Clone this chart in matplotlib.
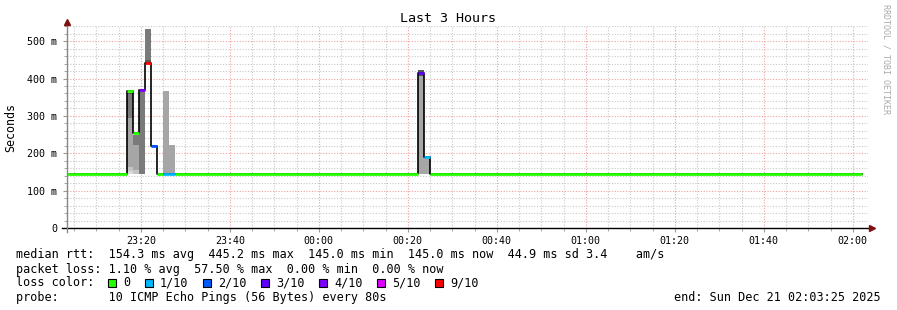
import numpy as np
import pandas as pd
import matplotlib
matplotlib.use("Agg")
import matplotlib.pyplot as plt
import matplotlib.dates as mdates
from matplotlib.patches import Rectangle
from matplotlib.ticker import FixedLocator, FuncFormatter

plt.rcParams['font.family'] = ['DejaVu Sans Mono', 'DejaVu Sans']

view_start = pd.Timestamp("2025-12-20 23:03:25")
view_end = pd.Timestamp("2025-12-21 02:03:25")
data_end = pd.Timestamp("2025-12-21 02:02:05")

# median rtt (ms), each value held until the next start
seg_start = ["2025-12-20 23:03:25", "2025-12-20 23:17:00", "2025-12-20 23:18:20",
             "2025-12-20 23:19:40", "2025-12-20 23:21:00", "2025-12-20 23:22:20",
             "2025-12-20 23:23:40", "2025-12-20 23:25:00", "2025-12-20 23:26:20",
             "2025-12-20 23:27:40", "2025-12-21 00:22:20", "2025-12-21 00:23:40",
             "2025-12-21 00:25:00"]
seg_median = [145, 366, 255, 369, 442, 219, 145, 145, 145, 145, 414, 190, 145]
seg_loss = [0, 0, 0, 4, 9, 2, 0, 1, 1, 0, 3, 1, 0]   # lost pings out of 10

# smoke (ping spread) bands in 80 s bins, level 1 = light .. 5 = dark
smoke_start = ["2025-12-20 23:17:00"] * 5 + ["2025-12-20 23:18:20"] * 3 + \
              ["2025-12-20 23:19:40"] + ["2025-12-20 23:21:00"] * 2 + \
              ["2025-12-20 23:25:00", "2025-12-20 23:26:20"] + \
              ["2025-12-21 00:22:20"] * 2 + ["2025-12-21 00:23:40"]
smoke_lo = [145, 153, 163, 295, 358, 145, 155, 221, 145, 442, 450, 145, 145, 145, 408, 145]
smoke_hi = [153, 163, 295, 358, 362, 155, 221, 250, 369, 450, 533, 368, 221, 408, 424, 190]
smoke_level = [1, 2, 3, 4, 5, 2, 3, 4, 4, 5, 4, 3, 3, 3, 5, 3]

loss_labels = ["0", "1/10", "2/10", "3/10", "4/10", "5/10", "9/10"]
loss_counts = [0, 1, 2, 3, 4, 5, 9]
loss_colors = ["#26ff00", "#00b8ff", "#0059ff", "#5e00ff", "#7e00ff", "#dd00ff", "#ff0000"]

legend_lines = [
    "median rtt:  154.3 ms avg  445.2 ms max  145.0 ms min  145.0 ms now  44.9 ms sd 3.4    am/s",
    "packet loss: 1.10 % avg  57.50 % max  0.00 % min  0.00 % now",
    "loss color:",
    "probe:       10 ICMP Echo Pings (56 Bytes) every 80s",
]
end_text = "end: Sun Dec 21 02:03:25 2025"

shades = {1: "#dadada", 2: "#c4c4c4", 3: "#a6a6a6", 4: "#7a7a7a", 5: "#565656"}
color_of = dict(zip(loss_counts, loss_colors))

W, H = 897, 310
fig = plt.figure(figsize=(W / 100, H / 100), dpi=100)
ax = fig.add_axes([67 / W, 82 / H, 801 / W, 202.5 / H])

# smoke
t_smoke = pd.to_datetime(smoke_start)
lo = np.array(smoke_lo)
hi = np.array(smoke_hi)
ax.bar(t_smoke, hi - lo, bottom=lo, width=80 / 86400, align='edge',
       color=[shades[l] for l in smoke_level], linewidth=0, zorder=2)

# median line: black steps under loss-coloured segments
t_seg = pd.to_datetime(seg_start)
t_edges = list(t_seg) + [data_end]
ax.step(t_edges, seg_median + [seg_median[-1]], where='post', color='black', lw=1.2, zorder=3)
ax.hlines(seg_median, t_edges[:-1], t_edges[1:], colors=[color_of[l] for l in seg_loss],
          lw=2.0, zorder=4, capstyle='butt')

ax.set_xlim(view_start, view_end)
ax.set_ylim(0, 542)

ax.xaxis.set_major_locator(mdates.MinuteLocator(byminute=[0, 20, 40]))
ax.xaxis.set_minor_locator(mdates.MinuteLocator(byminute=[5, 10, 15, 25, 30, 35, 45, 50, 55]))
ax.xaxis.set_major_formatter(mdates.DateFormatter('%H:%M'))
ax.yaxis.set_major_locator(FixedLocator([0, 100, 200, 300, 400, 500]))
ax.yaxis.set_minor_locator(FixedLocator([v for v in range(20, 560, 20) if v % 100]))
ax.yaxis.set_major_formatter(FuncFormatter(lambda v, p: "0" if v == 0 else f"{v:.0f} m"))

ax.grid(which='major', color='#eea0a0', linestyle=(0, (1, 1.5)), lw=0.8)
ax.grid(which='minor', color='#c8c8c8', linestyle=(0, (1, 1.5)), lw=0.8)
ax.set_axisbelow(True)

for s in ax.spines.values():
    s.set_visible(False)
ax.tick_params(which='both', labelsize=7.2, colors='#999999', labelcolor='black')
ax.tick_params(axis='y', which='major', length=3, pad=4)
ax.tick_params(axis='y', which='minor', length=2)
ax.tick_params(axis='x', which='major', length=3, pad=3)
ax.tick_params(axis='x', which='minor', length=2)

# axes lines with arrows
ax.plot([-5 / 801, 1 + 2 / 801], [0, 0], transform=ax.transAxes, color='black', lw=1,
        clip_on=False, zorder=5)
ax.plot([0, 0], [-4 / 202.5, 1 + 2 / 202.5], transform=ax.transAxes, color='#888888', lw=1,
        clip_on=False, zorder=5)
ax.plot(1 + 4 / 801, 0, marker='>', ms=4, color='#7f1010', transform=ax.transAxes,
        clip_on=False, zorder=6)
ax.plot(0, 1 + 4 / 202.5, marker='^', ms=4, color='#7f1010', transform=ax.transAxes,
        clip_on=False, zorder=6)


def px(x, y):
    return x / W, 1 - y / H


fig.text(*px(448, 19), "Last 3 Hours", ha='center', va='center', fontsize=9.6)
fig.text(*px(11, 127), "Seconds", ha='center', va='center', rotation=90, fontsize=8.4)
fig.text(*px(886, 4), "RRDTOOL / TOBI OETIKER", ha='center', va='top', rotation=270,
         fontsize=6, color='#aaaaaa')

line_y = [254, 268.3, 282.3, 296.7]
for txt, y in zip(legend_lines, line_y):
    fig.text(*px(16, y + 4.2), txt, ha='left', va='baseline', fontsize=8.45)
fig.text(*px(881, line_y[3] + 4.2), end_text, ha='right', va='baseline', fontsize=8.45)

box_x = [108, 145, 203, 261, 319, 377, 435]
for bx, lab, col in zip(box_x, loss_labels, loss_colors):
    fig.patches.append(Rectangle(px(bx, 286.5), 7.5 / W, 7.5 / H, transform=fig.transFigure,
                                 facecolor=col, edgecolor='black', lw=0.8))
    fig.text(*px(bx + 15, line_y[2] + 4.2), lab, ha='left', va='baseline', fontsize=8.45)

fig.savefig("out.png", dpi=100)
